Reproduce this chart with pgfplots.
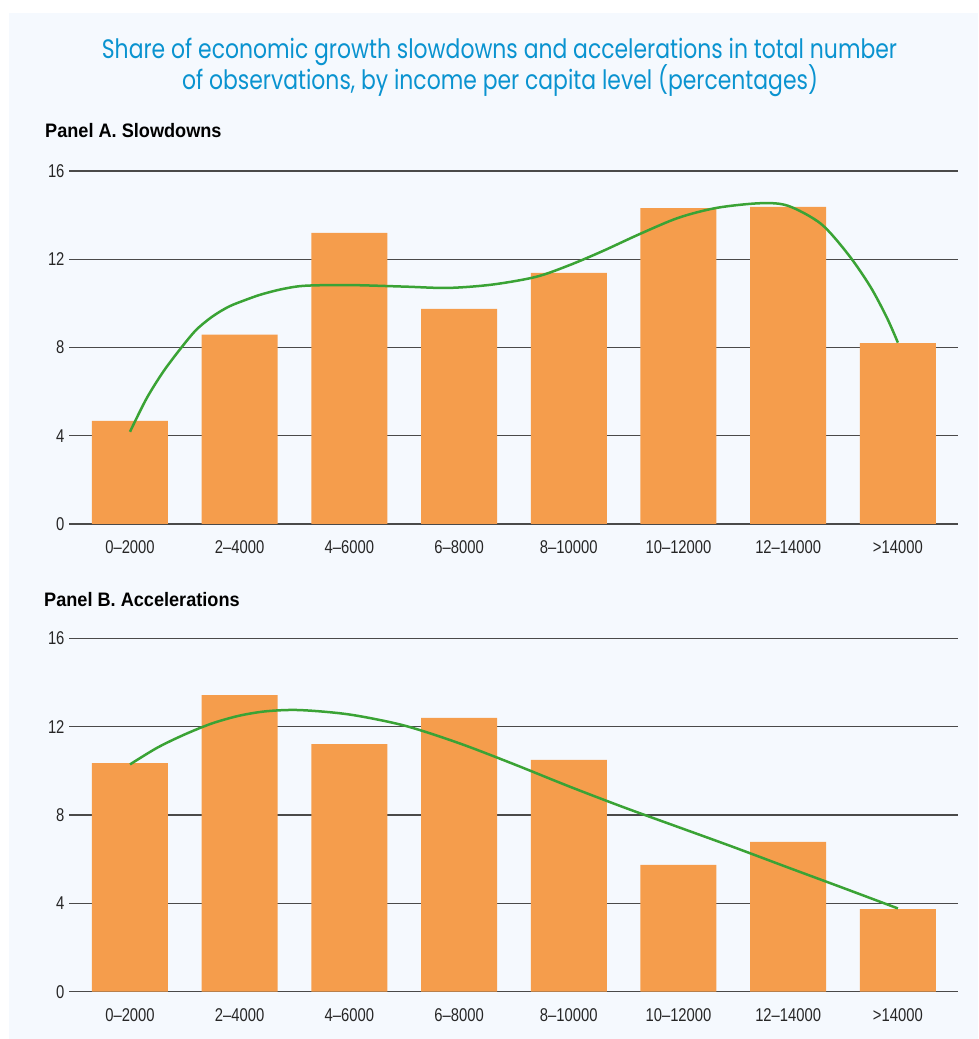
\documentclass[border=0pt]{standalone}
\usepackage{fontspec}
\setmainfont{Liberation Sans}[FakeStretch=0.8]
\newfontfamily\panelfont{Liberation Sans}[FakeStretch=0.93]
\newfontfamily\titlefont{Poppins}[FakeStretch=0.82]
\usepackage{pgfplots}
\pgfplotsset{compat=1.18}
\definecolor{bg}{HTML}{F5F9FE}
\definecolor{barc}{HTML}{F59D4C}
\definecolor{curvec}{HTML}{3AA335}
\definecolor{titleblue}{HTML}{0A93D0}
\definecolor{gridc}{HTML}{4A4A4A}
\pgfplotsset{
  panel/.style={
    scale only axis, width=889pt,
    xmin=-0.556, xmax=7.548, ymin=0, ymax=16,
    ytick={0,4,8,12,16}, xtick={0,...,7},
    xticklabels={0--2000,2--4000,4--6000,6--8000,8--10000,10--12000,12--14000,>14000},
    axis line style={draw=none},
    major tick length=0pt,
    ymajorgrids, grid style={gridc, line width=1.2pt},
    tick label style={font=\fontsize{18.5}{20}\selectfont, text=black!85},
    /pgf/number format/assume math mode=true,
    xticklabel style={anchor=base, yshift=-30pt},
    yticklabel style={anchor=east, xshift=-1pt},
    clip=false,
  }
}
\begin{document}
\begin{tikzpicture}[x=1pt,y=1pt]
\useasboundingbox (0,0) rectangle (978,1039);
\fill[white] (0,0) rectangle (978,1039);
\fill[bg] (9,0) rectangle (978,1026);
\node[anchor=base, text=titleblue, inner sep=0] at (499.5,980.7) {\titlefont\fontsize{26.7}{30}\selectfont Share of economic growth slowdowns and accelerations in total number};
\node[anchor=base, text=titleblue, inner sep=0] at (500,949) {\titlefont\fontsize{26.7}{30}\selectfont of observations, by income per capita level (percentages)};
\node[anchor=base west, inner sep=0] at (45,901) {\panelfont\bfseries\fontsize{19.5}{22}\selectfont Panel A. Slowdowns};
\node[anchor=base west, inner sep=0] at (44,432) {\panelfont\bfseries\fontsize{19.5}{22}\selectfont Panel B. Accelerations};

\begin{axis}[panel, height=353pt, at={(69pt,515pt)}, anchor=south west]
\addplot[ybar, bar width=76pt, fill=barc, draw=none] coordinates {
(0,4.67) (1,8.58) (2,13.19) (3,9.75) (4,11.38) (5,14.32) (6,14.37) (7,8.2)};
\addplot[curvec, line width=2.5pt, smooth, tension=0.5] coordinates {
(0,4.18) (0.15,5.68) (0.3,6.88) (0.45,7.88) (0.6,8.78) (0.75,9.4) (0.9,9.85) (1.05,10.15) (1.2,10.41) (1.4,10.66) (1.6,10.8) (2.0,10.83) (2.5,10.76) (2.9,10.7) (3.3,10.85) (3.7,11.2) (4.0,11.72) (4.3,12.35) (4.65,13.15) (5.0,13.88) (5.35,14.33) (5.75,14.54) (6.0,14.42) (6.3,13.6) (6.55,12.2) (6.75,10.75) (6.9,9.35) (7.0,8.22)};
\end{axis}

\begin{axis}[panel, height=353.4pt, at={(69pt,47.3pt)}, anchor=south west]
\addplot[ybar, bar width=76pt, fill=barc, draw=none] coordinates {
(0,10.35) (1,13.43) (2,11.21) (3,12.4) (4,10.5) (5,5.74) (6,6.78) (7,3.74)};
\addplot[curvec, line width=2.5pt, smooth, tension=0.5] coordinates {
(0,10.29) (0.25,11.05) (0.5,11.65) (0.75,12.15) (1.0,12.5) (1.25,12.7) (1.55,12.75) (2.0,12.55) (2.5,12.05) (3.0,11.25) (3.5,10.3) (4.0,9.3) (4.5,8.35) (5.0,7.45) (5.5,6.55) (6.0,5.62) (6.5,4.7) (7.0,3.77)};
\end{axis}
\end{tikzpicture}
\end{document}
